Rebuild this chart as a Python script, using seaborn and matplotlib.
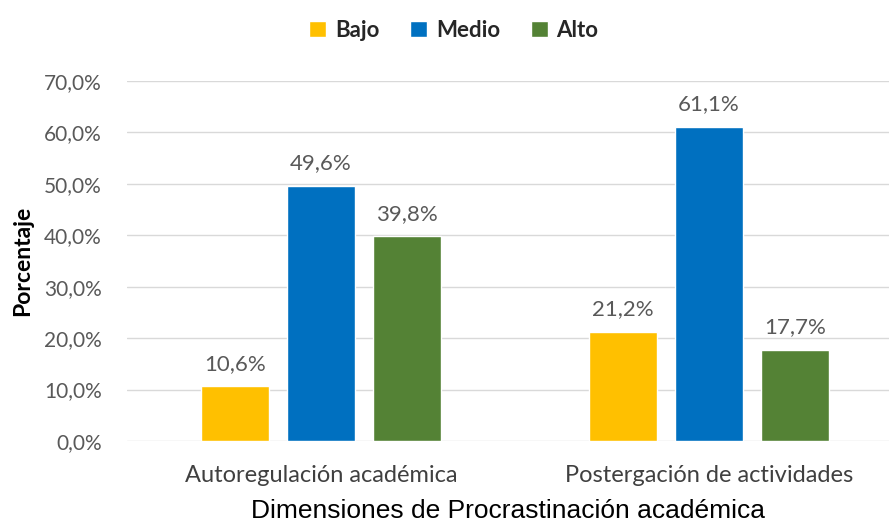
import pandas as pd
import numpy as np
import matplotlib
matplotlib.use('Agg')
import matplotlib.pyplot as plt
import seaborn as sns

dimensiones = ['Autoregulación académica', 'Postergación de actividades']
niveles = ['Bajo', 'Medio', 'Alto']
bajo = [10.6, 21.2]
medio = [49.6, 61.1]
alto = [39.8, 17.7]
colores = ['#FFC000', '#0070C0', '#548235']

df = pd.DataFrame({
    'dim': dimensiones * 3,
    'nivel': ['Bajo'] * 2 + ['Medio'] * 2 + ['Alto'] * 2,
    'pct': bajo + medio + alto,
})

sns.set_style('white')
plt.rcParams['font.family'] = ['Lato', 'DejaVu Sans']

fig = plt.figure(figsize=(8.9, 5.26), dpi=100)
ax = fig.add_axes([0.1427, 0.1616, 0.8562, 0.6844])

sns.barplot(data=df, x='dim', y='pct', hue='nivel', hue_order=niveles,
            palette=colores, width=0.665, gap=0.22, ax=ax, saturation=1)

ax.set_ylim(0, 70)
ax.set_xlim(-0.5, 1.464)
ax.set_yticks(np.arange(0, 71, 10))
ax.set_yticklabels([('%.1f%%' % v).replace('.', ',') for v in np.arange(0, 71, 10)],
                   color='#595959', fontsize=15)
ax.set_xticks([0, 1])
ax.set_xticklabels(dimensiones, color='#404040', fontsize=17)
ax.tick_params(axis='y', length=0, pad=18)
ax.tick_params(axis='x', length=0, pad=17)
ax.yaxis.grid(True, color='#d9d9d9', linewidth=1)
ax.set_axisbelow(True)
for s in ['top', 'right', 'left', 'bottom']:
    ax.spines[s].set_visible(False)

for cont in ax.containers:
    ax.bar_label(cont, labels=[('%.1f%%' % v).replace('.', ',') for v in cont.datavalues],
                 padding=9, color='#595959', fontsize=16)

ax.set_ylabel('Porcentaje', fontsize=16.5, fontweight='bold', color='black', labelpad=8)
ax.set_xlabel('Dimensiones de Procrastinación académica', fontsize=19,
              family='Liberation Sans', color='black', labelpad=10)

handles, labels = ax.get_legend_handles_labels()
ax.legend(handles, labels, loc='upper center', bbox_to_anchor=(0.51, 1.0), bbox_transform=fig.transFigure,
          ncol=3, frameon=False, prop={'weight': 'bold', 'size': 16},
          handlelength=0.75, handleheight=0.75, handletextpad=0.4, columnspacing=1.4)

fig.savefig('out.png', dpi=100)
